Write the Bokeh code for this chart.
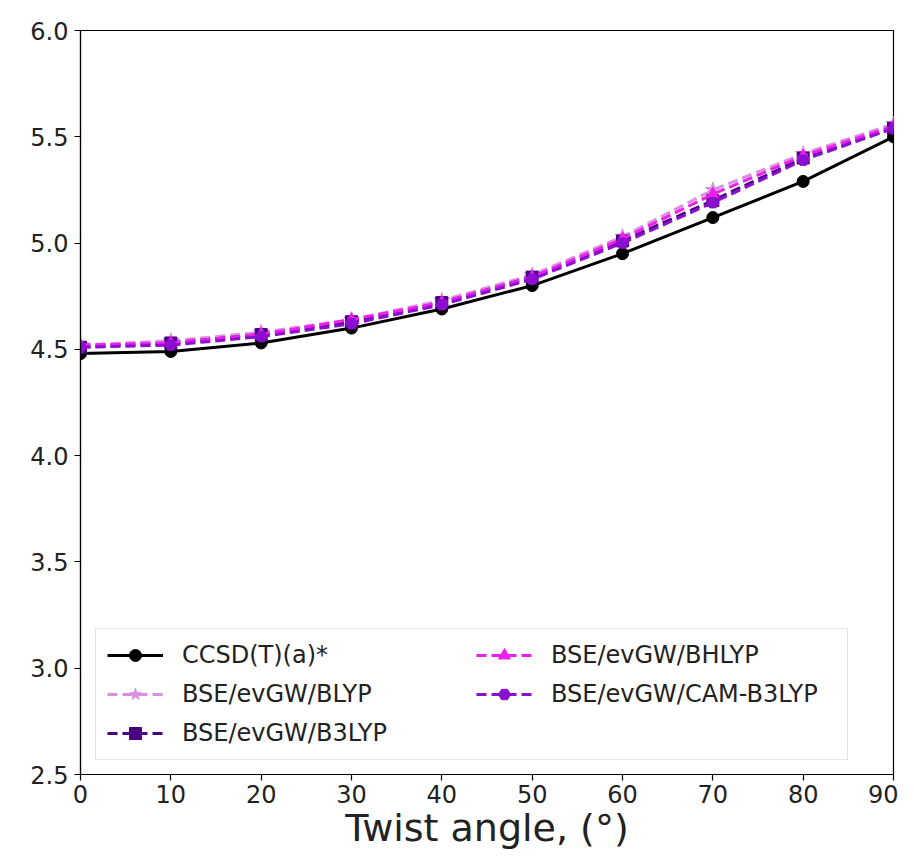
from bokeh.plotting import figure
from bokeh.models import Legend, LegendItem, FixedTicker, NumeralTickFormatter, Range1d
from bokeh.embed import file_html
from bokeh.resources import INLINE

angles = [0, 10, 20, 30, 40, 50, 60, 70, 80, 90]
ccsd = [4.48, 4.49, 4.53, 4.60, 4.69, 4.80, 4.95, 5.12, 5.29, 5.50]
blyp = [4.52, 4.54, 4.58, 4.64, 4.73, 4.85, 5.03, 5.25, 5.42, 5.56]
b3lyp = [4.51, 4.53, 4.57, 4.63, 4.72, 4.84, 5.01, 5.20, 5.40, 5.54]
bhlyp = [4.52, 4.53, 4.57, 4.64, 4.72, 4.84, 5.02, 5.23, 5.41, 5.55]
cam = [4.51, 4.52, 4.56, 4.62, 4.71, 4.83, 5.00, 5.19, 5.39, 5.54]

labels = ["CCSD(T)(a)*", "BSE/evGW/BLYP", "BSE/evGW/B3LYP",
          "BSE/evGW/BHLYP", "BSE/evGW/CAM-B3LYP"]
x_ticks = [0, 10, 20, 30, 40, 50, 60, 70, 80, 90]
y_ticks = [2.5, 3.0, 3.5, 4.0, 4.5, 5.0, 5.5, 6.0]

FONT = "DejaVu Sans"

p = figure(width=898, height=852, output_backend="svg", toolbar_location=None,
           x_range=Range1d(0, 90), y_range=Range1d(2.5, 6.0),
           min_border_left=80, min_border_right=5, min_border_top=30,
           min_border_bottom=76)
p.grid.visible = False
p.outline_line_color = "black"
p.outline_line_width = 1.2

series = [
    (ccsd, "black", "circle", "solid"),
    (blyp, "#DA8FE0", "star", "dashed"),
    (b3lyp, "#4B0082", "square", "dashed"),
    (bhlyp, "#EE1EEE", "triangle", "dashed"),
    (cam, "#8A0FD0", "hex", "dashed"),
]

items = []
for (vals, col, mk, dash), lab in zip(series, labels):
    ld = "solid" if dash == "solid" else "10 5"
    r1 = p.line(angles, vals, line_color=col, line_width=3, line_dash=ld)
    sz = 16 if mk == "star" else 12
    r2 = p.scatter(angles, vals, marker=mk, size=sz, fill_color=col, line_color=col)
    items.append(LegendItem(label=lab, renderers=[r1, r2]))

legend = Legend(items=items, location=(15, 14), orientation="vertical",
                nrows=3, ncols=2,
                glyph_width=56, glyph_height=30, label_standoff=19,
                label_width=285, spacing=9, padding=11, margin=0,
                label_text_font=FONT, label_text_font_size="24px",
                label_text_color="#222222",
                border_line_color="#cccccc", border_line_width=1,
                background_fill_alpha=0.85)
p.add_layout(legend, "center")

for ax in (p.xaxis[0], p.yaxis[0]):
    ax.major_label_text_font = FONT
    ax.major_label_text_font_size = "24px"
    ax.major_label_text_color = "#222222"
    ax.major_tick_out = 6
    ax.major_tick_in = 0
    ax.minor_tick_out = 0
    ax.minor_tick_in = 0
    ax.axis_line_color = "black"
    ax.axis_line_width = 1.2
    ax.major_tick_line_color = "black"
    ax.major_tick_line_width = 1.2

p.xaxis.major_label_standoff = 4
p.yaxis.major_label_standoff = 6
p.xaxis.ticker = FixedTicker(ticks=x_ticks)
p.yaxis.ticker = FixedTicker(ticks=y_ticks)
p.yaxis.formatter = NumeralTickFormatter(format="0.0")
p.xaxis.axis_label = "Twist angle, (°)"
p.xaxis.axis_label_text_font = FONT
p.xaxis.axis_label_text_font_size = "38px"
p.xaxis.axis_label_text_font_style = "normal"
p.xaxis.axis_label_text_color = "#222222"
p.xaxis.axis_label_standoff = 0

open("out.html", "w").write(file_html(p, INLINE))
